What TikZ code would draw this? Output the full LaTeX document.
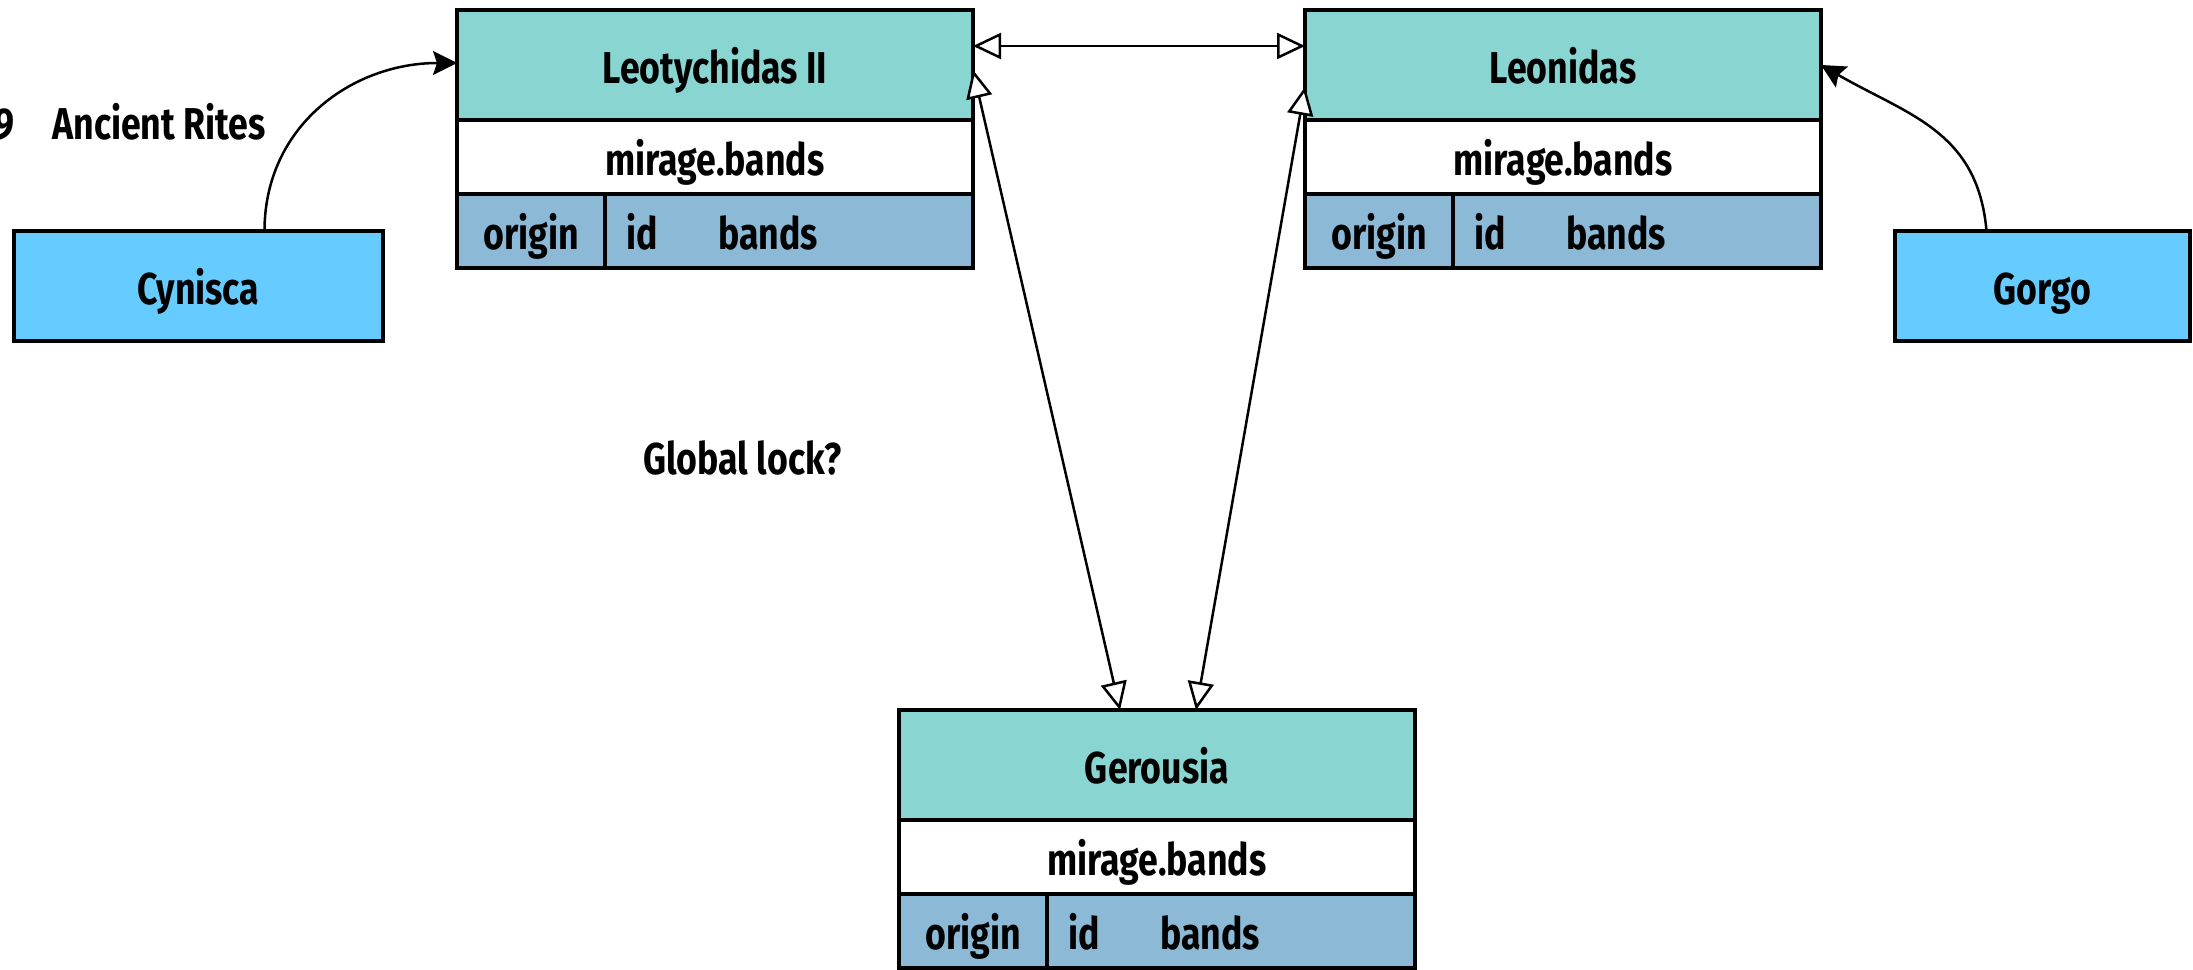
\documentclass[tikz,border=0pt]{standalone}
\usepackage{fontspec}
\setmainfont{Fira Sans}[FakeStretch=0.8]
\usetikzlibrary{arrows.meta}
\definecolor{hdrc}{RGB}{136,213,209}
\definecolor{rowc}{RGB}{139,185,214}
\definecolor{boxc}{RGB}{102,204,255}
\newcommand{\figfont}{\fontsize{22.3}{26}\selectfont\bfseries}
\newcommand{\dbtab}[4]{%
  \node[hdr, anchor=north west] (#1h) at (#2,#3) {#4};
  \node[midrow, anchor=north] (#1m) at (#1h.south) {mirage.bands};
  \node[cellA, anchor=north west] (#1o) at (#1m.south west) {origin};
  \node[cellB, anchor=north west] (#1r) at (#1o.north east) {};
  \node[celltxt] (#1i) at ([xshift=10.5pt]#1o.east) {id};
  \node[celltxt] (#1b) at ([xshift=56.5pt]#1o.east) {bands};
}
\begin{document}
\begin{tikzpicture}[x=0.5pt,y=-0.5pt,
  every node/.style={font=\figfont, text=black, text height=19pt, text depth=1pt},
  tbl/.style={draw=black, line width=1.6pt, outer sep=0pt, inner sep=0pt},
  hdr/.style={tbl, fill=hdrc, minimum width=258pt, minimum height=55pt},
  midrow/.style={tbl, fill=white, minimum width=258pt, minimum height=37pt},
  cellA/.style={tbl, fill=rowc, minimum width=74pt, minimum height=37pt},
  cellB/.style={tbl, fill=rowc, minimum width=184pt, minimum height=37pt},
  celltxt/.style={anchor=west, inner sep=0pt},
  actor/.style={draw=black, line width=1.6pt, fill=boxc, outer sep=0pt, inner sep=0pt},
  openarr/.style={line width=1.25pt, {Triangle[open, length=14pt, width=13pt, fill=white]}-{Triangle[open, length=14pt, width=13pt, fill=white]}},
  fillarr/.style={line width=1.25pt, -{Stealth[length=12pt, width=12pt, inset=2pt]}},
  plain/.style={inner sep=0pt}
]
\useasboundingbox (0,0) rectangle (2193,969);
\fill[white] (0,0) rectangle (2193,969);

\dbtab{leo}{457}{10}{Leotychidas II}
\dbtab{lnd}{1305}{10}{Leonidas}
\dbtab{ger}{899}{710}{Gerousia}

\node[actor, minimum width=184.5pt, minimum height=55pt] (cyn) at (198.5,286) {Cynisca};
\node[actor, minimum width=147.5pt, minimum height=55pt] (gor) at (2042.5,286) {Gorgo};

\node[plain, anchor=west] (rites) at (52,121) {Ancient Rites};
\node[plain, anchor=east] (nine) at (15,121) {9};
\node[plain, anchor=west] (lock) at (643,456) {Global lock?};

\draw[openarr] ([yshift=9.5pt]leoh.east) -- ([yshift=9.5pt]lndh.west);
\draw[openarr] ([yshift=-30pt]leoh.north east) -- ([xshift=110.5pt]gerh.north west);
\draw[openarr] ([yshift=-38.5pt]lndh.north west) -- ([xshift=148.5pt]gerh.north west);

\draw[fillarr] ([xshift=33pt]cyn.north) to[out=90, in=180, looseness=1.05] ([yshift=-26.5pt]leoh.north west);
\draw[fillarr] ([xshift=-28pt]gor.north) to[out=95, in=-30, looseness=1.1] ([yshift=-27.5pt]lndh.north east);
\end{tikzpicture}
\end{document}
